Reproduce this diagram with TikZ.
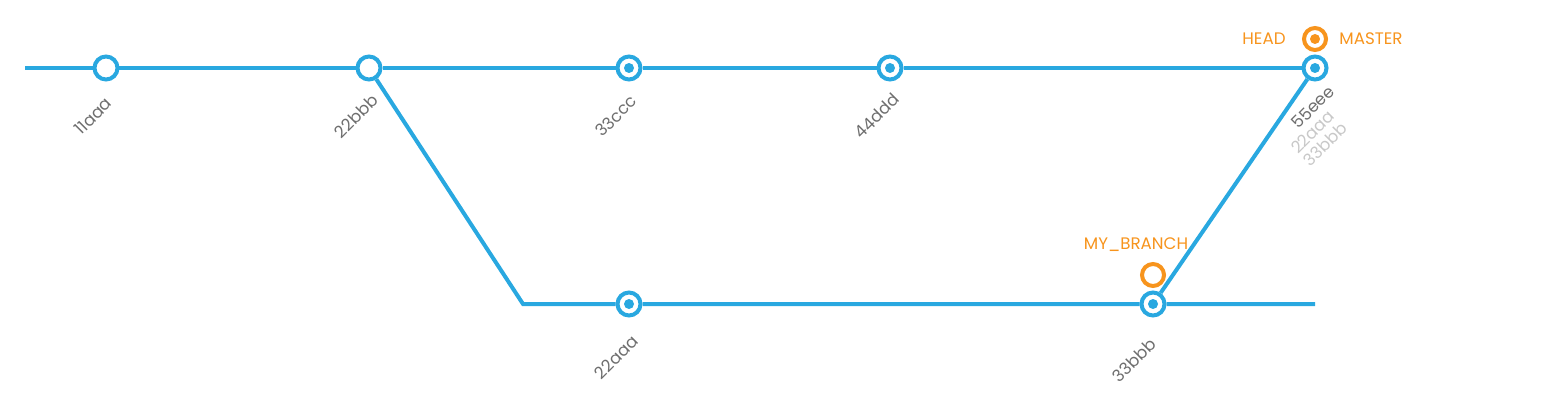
\documentclass[tikz,border=0pt]{standalone}
\usepackage{fontspec}
\setmainfont{Poppins}
\usepackage{tikz}
\definecolor{gitblue}{RGB}{41,168,224}
\definecolor{gitorange}{RGB}{247,148,29}
\definecolor{idgray}{RGB}{110,110,110}
\definecolor{oldgray}{RGB}{200,200,200}
\tikzset{
  commit/.style={circle, draw=gitblue, line width=0.08cm, fill=white,
    minimum size=0.46cm, inner sep=0pt},
  current/.style={commit, path picture={
    \fill[gitblue] (path picture bounding box.center) circle (0.1cm);}},
  pointer/.style={circle, draw=gitorange, line width=0.08cm, fill=white,
    minimum size=0.44cm, inner sep=0pt},
  headptr/.style={pointer, path picture={
    \fill[gitorange] (path picture bounding box.center) circle (0.1cm);}},
  branch/.style={draw=gitblue, line width=0.08cm},
  sha/.style={text=idgray, rotate=45, font=\fontsize{9.5}{10}\selectfont, inner sep=0pt},
  oldsha/.style={sha, text=oldgray, align=left},
  refname/.style={text=gitorange, font=\fontsize{9.5}{10}\selectfont, inner sep=0pt}
}
\begin{document}
\begin{tikzpicture}[x=0.02cm, y=-0.02cm]
  \useasboundingbox (0,0) rectangle (1557,412);
  % commits
  \node [commit] (11aaa) at (106,68) {};
  \node [commit] (22bbb) at (369,68) {};
  \node [current] (33ccc) at (629,68) {};
  \node [current] (44ddd) at (890,68) {};
  \node [current] (55eee) at (1315,68) {};
  \node [current] (22aaa) at (629,304) {};
  \node [current] (33bbb) at (1153,304) {};
  \coordinate (start) at (25,68);
  \coordinate (bend) at (523,304);
  \coordinate (stop) at (1315,304);
  % lines
  \draw [branch] (start) -- (11aaa) -- (22bbb) -- (33ccc) -- (44ddd) -- (55eee);
  \draw [branch] (22bbb) -- (bend) -- (22aaa) -- (33bbb) -- (stop);
  \draw [branch] (33bbb) -- (55eee);
  % ids
  \node [sha] (l11aaa) at (93,116) {11aaa};
  \node [sha] (l22bbb) at (356,116) {22bbb};
  \node [sha] (l33ccc) at (616,116) {33ccc};
  \node [sha] (l44ddd) at (877,116) {44ddd};
  \node [sha] (l55eee) at (1313,107) {55eee};
  \node [oldsha] (lold) at (1319,138) {22aaa\\33bbb};
  \node [sha] (l22aaa) at (616,357) {22aaa};
  \node [sha] (l33bbb) at (1134,360) {33bbb};
  % refs
  \node [headptr] (master) at (1315,39) {};
  \node [pointer] (mybranch) at (1153,275) {};
  \node [refname] (head) at (1264,39) {HEAD};
  \node [refname] (mastername) at (1371,39) {MASTER};
  \node [refname] (mybranchname) at (1136,245) {MY\_BRANCH};
\end{tikzpicture}
\end{document}
